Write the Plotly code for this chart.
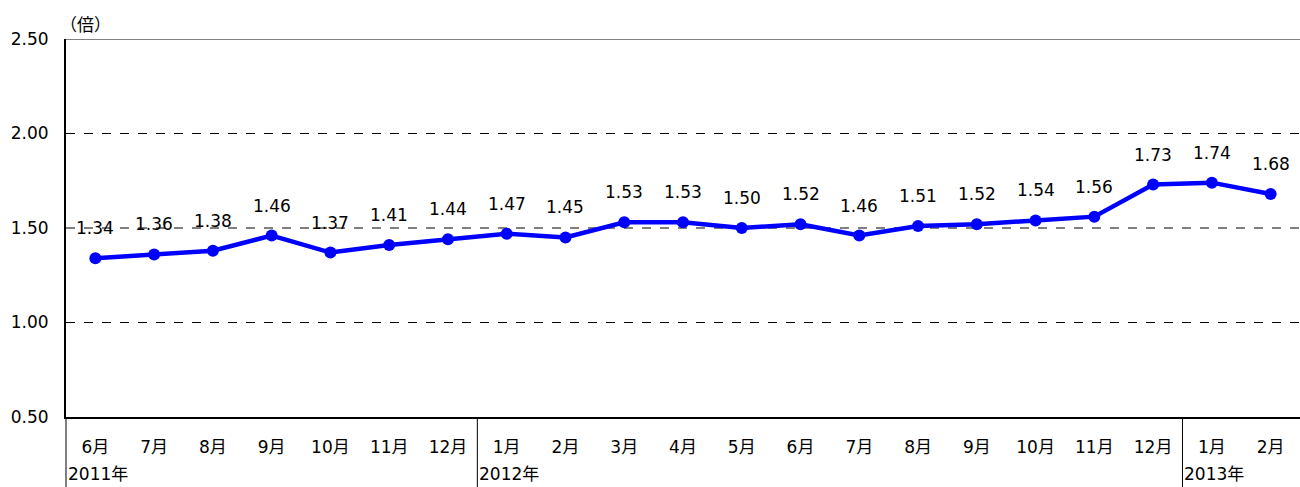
import plotly.graph_objects as go

months = ["6月", "7月", "8月", "9月", "10月", "11月", "12月",
          "1月", "2月", "3月", "4月", "5月", "6月", "7月", "8月", "9月", "10月", "11月", "12月",
          "1月", "2月"]
values = [1.34, 1.36, 1.38, 1.46, 1.37, 1.41, 1.44,
          1.47, 1.45, 1.53, 1.53, 1.50, 1.52, 1.46, 1.51, 1.52, 1.54, 1.56, 1.73,
          1.74, 1.68]
years = ["2011年", "2012年", "2013年"]
year_start_idx = [0, 7, 19]
y_ticks = [0.5, 1.0, 1.5, 2.0, 2.5]
dashed_levels = [1.0, 1.5, 2.0]

FONT = "DejaVu Sans, Noto Sans CJK JP, sans-serif"
n = len(months)
xs = list(range(n))

fig = go.Figure()
fig.add_trace(go.Scatter(
    x=xs, y=values, mode="lines+markers",
    line=dict(color="#0000FF", width=4.5),
    marker=dict(color="#0000FF", size=12),
    hoverinfo="skip", showlegend=False, cliponaxis=False,
))

annotations = []
for i, v in zip(xs, values):
    annotations.append(dict(x=i, y=v, xref="x", yref="y", text=f"{v:.2f}",
                            showarrow=False, yshift=30,
                            font=dict(family=FONT, size=17, color="black")))

shapes = []
for lv in dashed_levels:
    shapes.append(dict(type="line", xref="paper", yref="y", x0=0, x1=1, y0=lv, y1=lv,
                       line=dict(color="black", width=1, dash="dash"), layer="below"))
# top border (gray)
shapes.append(dict(type="line", xref="paper", yref="y", x0=0, x1=1, y0=2.5, y1=2.5,
                   line=dict(color="#808080", width=2)))
# year separators
for k, idx in enumerate(year_start_idx):
    xp = idx / n
    shapes.append(dict(type="line", xref="paper", yref="paper", x0=xp, x1=xp, y0=0, y1=-0.2,
                       line=dict(color="black", width=1)))
    annotations.append(dict(x=xp, y=-0.1825, xref="paper", yref="paper", text=years[k],
                            xanchor="left", yanchor="bottom", xshift=0, showarrow=False,
                            font=dict(family=FONT, size=17, color="black")))
# unit label
annotations.append(dict(x=0, y=1, xref="paper", yref="paper", text="（倍）",
                        xanchor="left", yanchor="bottom", xshift=-8, yshift=1, showarrow=False,
                        font=dict(family="Noto Sans CJK JP, sans-serif", size=17, color="black")))

fig.update_layout(
    width=1300, height=487,
    margin=dict(l=66, r=0, t=39, b=70, autoexpand=False),
    paper_bgcolor="white", plot_bgcolor="white",
    font=dict(family=FONT, size=17, color="black"),
    xaxis=dict(range=[-0.5, n - 0.5], tickvals=xs, ticktext=months, showgrid=False,
               zeroline=False, showline=True, linecolor="black", linewidth=2,
               ticks="", ticklabelstandoff=14, fixedrange=True, automargin=False,
               tickfont=dict(family=FONT, size=17, color="black")),
    yaxis=dict(range=[0.5, 2.5], tickvals=y_ticks, tickformat=".2f", showgrid=False,
               zeroline=False, showline=True, linecolor="black", linewidth=2,
               ticks="", ticklabelstandoff=12, fixedrange=True, automargin=False,
               tickfont=dict(family=FONT, size=17, color="black")),
    shapes=shapes, annotations=annotations,
)

fig.write_html("out.html", config={"displayModeBar": False},
               post_script="document.body.style.margin='0';document.body.style.overflow='hidden';")
